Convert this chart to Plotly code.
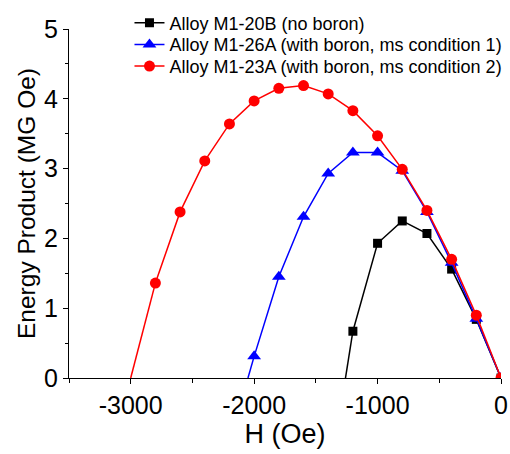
import plotly.graph_objects as go

# Data (H in Oe, Energy product in MG Oe)
h_20b = [-1200, -1000, -800, -600, -400, -200, 0]
e_20b = [0.67, 1.93, 2.25, 2.07, 1.56, 0.84, 0.0]
h0_20b = -1260  # line intercept (no marker)

h_26a = [-2000, -1800, -1600, -1400, -1200, -1000, -800, -600, -400, -200, 0]
e_26a = [0.31, 1.45, 2.31, 2.93, 3.23, 3.23, 2.97, 2.38, 1.65, 0.85, 0.0]
h0_26a = -2050

h_23a = [-2800, -2600, -2400, -2200, -2000, -1800, -1600, -1400, -1200, -1000, -800, -600, -400, -200, 0]
e_23a = [1.36, 2.38, 3.11, 3.64, 3.97, 4.15, 4.19, 4.07, 3.83, 3.47, 2.99, 2.40, 1.70, 0.90, 0.0]
h0_23a = -3000

x_tickvals = [-3000, -2000, -1000, 0]
x_ticktext = ["-3000", "-2000", "-1000", "0"]

names = ["Alloy M1-20B (no boron)",
         "Alloy M1-26A (with boron, ms condition 1)",
         "Alloy M1-23A (with boron, ms condition 2)"]

series = [
    (h_20b, e_20b, h0_20b, "#000000", "square", 9),
    (h_26a, e_26a, h0_26a, "#0000FF", "triangle-up", 12),
    (h_23a, e_23a, h0_23a, "#FF0000", "circle", 11),
]

FONT = "Liberation Sans, Arial, sans-serif"
legend_ids = ["legend", "legend2", "legend3"]
fig = go.Figure()
for (hx, ey, h0, col, sym, ms), nm, lg in zip(series, names, legend_ids):
    fig.add_trace(go.Scatter(x=[h0, hx[0]], y=[0, ey[0]], mode="lines",
                             line=dict(color=col, width=1.5), showlegend=False,
                             hoverinfo="skip"))
    fig.add_trace(go.Scatter(x=hx, y=ey, mode="lines+markers", name=nm, legend=lg,
                             line=dict(color=col, width=1.5),
                             marker=dict(symbol=sym, size=ms, color=col,
                                         line=dict(width=0))))

leg_common = dict(x=0.14, xanchor="left", yanchor="top", bgcolor="rgba(0,0,0,0)",
                  font=dict(size=18, family=FONT, color="black"), itemwidth=30)

fig.update_layout(
    width=510, height=454,
    margin=dict(l=69, r=9, t=29, b=76, autoexpand=False),
    paper_bgcolor="white", plot_bgcolor="white",
    font=dict(family=FONT, color="black"),
    showlegend=True,
    legend=dict(y=1.07, **leg_common),
    legend2=dict(y=1.008, **leg_common),
    legend3=dict(y=0.946, **leg_common),
    xaxis=dict(range=[-3500, 0], tickvals=x_tickvals, ticktext=x_ticktext,
               showgrid=False, zeroline=False,
               showline=True, linecolor="black", linewidth=1, ticks="outside",
               ticklen=5, tickwidth=1, tickcolor="black",
               tickfont=dict(size=25, family=FONT, color="black"),
               minor=dict(ticks="outside", dtick=500, tick0=0, ticklen=4, tickcolor="black"),
               title=dict(text="H (Oe)", font=dict(size=27, family=FONT, color="black"), standoff=2),
               automargin=False),
    yaxis=dict(range=[0, 5], dtick=1, showgrid=False, zeroline=False,
               showline=True, linecolor="black", linewidth=1, ticks="outside",
               ticklen=5, tickwidth=1, tickcolor="black",
               tickfont=dict(size=25, family=FONT, color="black"),
               minor=dict(ticks="outside", dtick=0.5, ticklen=3, tickcolor="black"),
               title=dict(text="Energy Product (MG Oe)", font=dict(size=24.5, family=FONT, color="black"), standoff=1),
               automargin=False),
)

fig.write_html("out.html")
